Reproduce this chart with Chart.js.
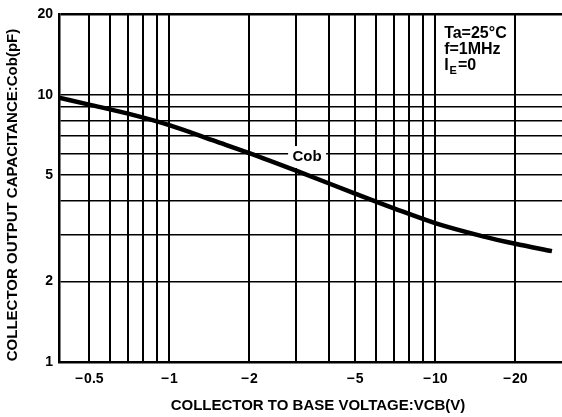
<!DOCTYPE html>
<html>
<head>
<meta charset="utf-8">
<script src="https://cdn.jsdelivr.net/npm/chart.js@4/dist/chart.umd.min.js"></script>
<style>
  html, body { margin: 0; padding: 0; background: #fff; }
  canvas { display: block; }
</style>
</head>
<body>
<canvas id="cobChart" width="562" height="417"></canvas>
<script>
// curve: Vcb magnitude (V) -> Cob (pF)
const vcb = [0.385, 0.5, 0.7, 1, 1.5, 2, 3, 5, 7, 10, 15, 20, 27.5];
const cob = [9.75, 9.19, 8.5, 7.7, 6.69, 6.05, 5.2, 4.27, 3.76, 3.31, 2.96, 2.77, 2.6];

// grid lines and labelled ticks
const xGrid = [0.5, 0.6, 0.7, 0.8, 0.9, 1, 2, 3, 4, 5, 6, 7, 8, 9, 10, 20];
const xLabels = [0.5, 1, 2, 5, 10, 20];
const yGrid = [1, 2, 3, 4, 5, 6, 7, 8, 9, 10, 20];
const yLabels = [1, 2, 5, 10, 20];

const xTitle = 'COLLECTOR TO BASE VOLTAGE:VCB(V)';
const yTitle = 'COLLECTOR OUTPUT CAPACITANCE:Cob(pF)';
const conditions = ['Ta=25°C', 'f=1MHz'];

const FONT = "'Liberation Sans', Arial, sans-serif";
const INK = '#000';

new Chart(document.getElementById('cobChart'), {
    type: 'line',
    data: {
        datasets: [{
            data: vcb.map((v, i) => ({ x: v, y: cob[i] })),
            borderColor: INK,
            borderWidth: 4.5,
            pointRadius: 0,
            cubicInterpolationMode: 'monotone'
        }]
    },
    options: {
        responsive: false,
        animation: false,
        layout: { padding: { top: 13, right: 0, left: 0, bottom: 0 } },
        plugins: { legend: { display: false }, tooltip: { enabled: false } },
        scales: {
            x: {
                type: 'logarithmic',
                min: 0.385,
                max: 30,
                afterBuildTicks: s => { s.ticks = xGrid.map(v => ({ value: v })); },
                afterFit: s => { s.height = 55; },
                grid: { color: INK, lineWidth: 2, drawTicks: false },
                border: { display: true, color: INK, width: 2.5 },
                ticks: {
                    autoSkip: false,
                    maxRotation: 0,
                    padding: 9,
                    color: INK,
                    font: { family: FONT, size: 14, weight: 'bold' },
                    callback: v => xLabels.includes(v) ? '\u2212\u200A' + v : ''
                }
            },
            y: {
                type: 'logarithmic',
                min: 1,
                max: 20,
                afterBuildTicks: s => { s.ticks = yGrid.map(v => ({ value: v })); },
                afterFit: s => { s.width = 59; },
                grid: {
                    color: INK,
                    drawTicks: false,
                    lineWidth: c => (c.tick && c.tick.value === 20) ? 2.5 : 1.6
                },
                border: { display: true, color: INK, width: 2.5 },
                ticks: {
                    autoSkip: false,
                    padding: 6,
                    color: INK,
                    font: { family: FONT, size: 14, weight: 'bold' },
                    callback: v => yLabels.includes(v) ? String(v) : ''
                }
            }
        }
    },
    plugins: [{
        id: 'cobLabel',
        beforeDatasetsDraw: (chart) => {
            const { ctx, scales } = chart;
            const cx = scales.x.getPixelForValue(3.3);
            const cy = scales.y.getPixelForValue(5.85);
            ctx.save();
            ctx.fillStyle = '#fff';
            ctx.fillRect(cx - 19, cy - 11, 38, 22);
            ctx.fillStyle = INK;
            ctx.font = 'bold 15px ' + FONT;
            ctx.textAlign = 'center';
            ctx.textBaseline = 'middle';
            ctx.fillText('Cob', cx, cy);
            ctx.restore();
        }
    }, {
        id: 'titles',
        afterDraw: (chart) => {
            const { ctx, chartArea, scales } = chart;
            ctx.save();
            ctx.fillStyle = INK;

            // axis titles
            ctx.font = 'bold 15px ' + FONT;
            ctx.textAlign = 'center';
            ctx.textBaseline = 'alphabetic';
            ctx.fillText(xTitle, 318, 410);

            ctx.translate(17, 195);
            ctx.rotate(-Math.PI / 2);
            ctx.fillText(yTitle, 0, 0);
            ctx.setTransform(1, 0, 0, 1, 0, 0);

            // test conditions
            const tx = scales.x.getPixelForValue(10) + 9;
            const ty = chartArea.top + 24;
            ctx.font = 'bold 16px ' + FONT;
            ctx.textAlign = 'left';
            conditions.forEach((t, i) => ctx.fillText(t, tx, ty + i * 16));

            let x = tx;
            const y3 = ty + 32;
            ctx.fillText('I', x, y3);
            x += ctx.measureText('I').width + 1;
            ctx.font = 'bold 11px ' + FONT;
            ctx.fillText('E', x, y3 + 4);
            x += ctx.measureText('E').width + 1;
            ctx.font = 'bold 16px ' + FONT;
            ctx.fillText('=0', x, y3);
            ctx.restore();
        }
    }]
});
</script>
</body>
</html>
